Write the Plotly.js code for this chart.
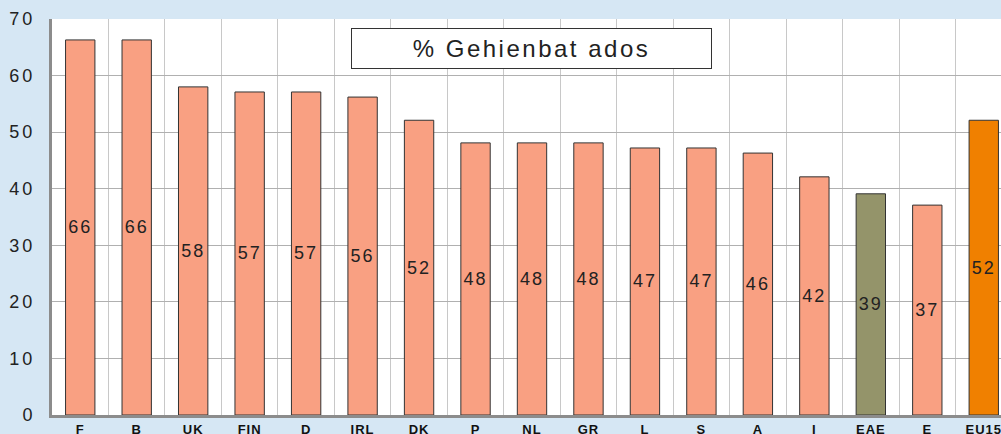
<!DOCTYPE html>
<html>
<head>
<meta charset="utf-8">
<script src="https://cdn.plot.ly/plotly-3.0.1.min.js"></script>
<style>
html,body{margin:0;padding:0;overflow:hidden;background:#d6e7f4;}
#chart{width:1013px;height:434px;}
#chart .ytick text{letter-spacing:3px;}
#chart .xtick text{letter-spacing:1px;}
#chart .textpoint text, #chart text.bartext{letter-spacing:2px;}
#chart .annotation-text{letter-spacing:2.5px;}
</style>
</head>
<body>
<div id="chart"></div>
<script>
const categories = ["F","B","UK","FIN","D","IRL","DK","P","NL","GR","L","S","A","I","EAE","E","EU15"];
const values = [66.3,66.3,58.0,57.1,57.1,56.2,52.1,48.1,48.1,48.1,47.2,47.2,46.3,42.1,39.1,37.1,52.1];
const labels = ["66","66","58","57","57","56","52","48","48","48","47","47","46","42","39","37","52"];
const barColors = categories.map(c => c === "EAE" ? "#94946a" : (c === "EU15" ? "#f08000" : "#f9a082"));
const yTicks = [0,10,20,30,40,50,60,70];
const titleText = "% Gehienbat ados";

const xIdx = categories.map((_, i) => i);

const trace = {
  type: "bar",
  x: xIdx,
  y: values,
  width: 0.52,
  marker: {color: barColors, line: {color: "#333333", width: 1}},
  text: labels,
  textposition: "inside",
  insidetextanchor: "middle",
  constraintext: "none",
  textangle: 0,
  textfont: {family: "Liberation Sans, Arial, sans-serif", size: 18, color: "#222222"},
  hoverinfo: "skip"
};

const layout = {
  width: 1013,
  height: 434,
  margin: {l: 52, r: 1, t: 19, b: 19},
  paper_bgcolor: "#d6e7f4",
  plot_bgcolor: "#ffffff",
  showlegend: false,
  xaxis: {
    range: [-0.5, categories.length - 0.5],
    tickmode: "array",
    tickvals: xIdx,
    ticktext: categories,
    showgrid: false,
    zeroline: false,
    showline: true,
    linecolor: "#8c8c8c",
    linewidth: 3,
    ticks: "",
    ticklabelstandoff: 0,
    tickfont: {family: "Liberation Sans, Arial, sans-serif", size: 13, color: "#111111", weight: "bold"},
    minor: {tickmode: "linear", tick0: 0.5, dtick: 1, showgrid: true, gridcolor: "#c8c8c8", gridwidth: 1, ticks: ""},
    fixedrange: true
  },
  yaxis: {
    range: [0, 70],
    tickmode: "array",
    tickvals: yTicks,
    showgrid: true,
    gridcolor: "#b0b0b0",
    gridwidth: 1,
    zeroline: false,
    showline: true,
    linecolor: "#8c8c8c",
    linewidth: 3,
    ticks: "",
    ticklabelstandoff: 10,
    tickfont: {family: "Liberation Sans, Arial, sans-serif", size: 18, color: "#222222"},
    fixedrange: true
  },
  annotations: [{
    text: titleText,
    xref: "paper", yref: "paper",
    x: (531 - 52) / 960, y: (415 - 48.5) / 396,
    xanchor: "center", yanchor: "middle",
    showarrow: false,
    width: 355,
    height: 35,
    bgcolor: "#ffffff",
    bordercolor: "#333333",
    borderwidth: 1,
    borderpad: 2,
    font: {family: "Liberation Sans, Arial, sans-serif", size: 24, color: "#222222"}
  }]
};

Plotly.newPlot("chart", [trace], layout, {displayModeBar: false, staticPlot: true});
</script>
</body>
</html>
